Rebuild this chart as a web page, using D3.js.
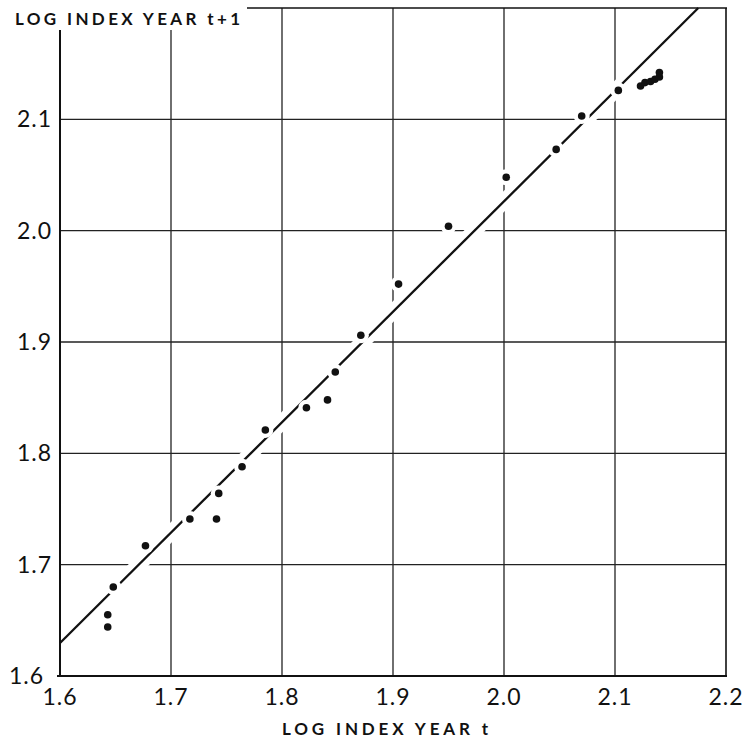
<!DOCTYPE html>
<html>
<head>
<meta charset="utf-8">
<script src="https://cdn.jsdelivr.net/npm/d3@7"></script>
<style>
  body { margin: 0; background: #fff; }
  svg { display: block; }
  text { fill: #111; }
</style>
</head>
<body>
<div id="chart"></div>
<script>
// values
const xVals = [1.643, 1.643, 1.648, 1.677, 1.717, 1.741, 1.743, 1.764, 1.785, 1.822,
  1.841, 1.848, 1.871, 1.905, 1.950, 2.002, 2.047, 2.070, 2.103,
  2.123, 2.127, 2.132, 2.136, 2.140, 2.140];
const yVals = [1.644, 1.655, 1.680, 1.717, 1.741, 1.741, 1.764, 1.788, 1.821, 1.841,
  1.848, 1.873, 1.906, 1.952, 2.004, 2.048, 2.073, 2.103, 2.126,
  2.130, 2.133, 2.134, 2.136, 2.138, 2.142];
const fitIntercept = 1.6296; // value of the line at x = 1.6
const fitSlope = 0.992;
const tickVals = [1.6, 1.7, 1.8, 1.9, 2.0, 2.1, 2.2];
const tickLabels = ["1.6", "1.7", "1.8", "1.9", "2.0", "2.1", "2.2"];
const xTitle = "LOG INDEX YEAR t";
const yTitle = "LOG INDEX YEAR t+1";

const width = 749, height = 738;
const plot = { left: 60, right: 726, top: 8, bottom: 676 };

const x = d3.scaleLinear().domain([1.6, 2.2]).range([plot.left, plot.right]);
const y = d3.scaleLinear().domain([1.6, 2.2]).range([plot.bottom, plot.top]);

const svg = d3.select("#chart").append("svg")
  .attr("width", width)
  .attr("height", height);

const inner = tickVals.slice(1, -1);

// grid
svg.append("g").selectAll("line.v")
  .data(inner).enter().append("line")
  .attr("x1", d => x(d)).attr("x2", d => x(d))
  .attr("y1", plot.top).attr("y2", plot.bottom)
  .style("stroke", "#222").style("stroke-width", 1.3);

svg.append("g").selectAll("line.h")
  .data(inner).enter().append("line")
  .attr("x1", plot.left).attr("x2", plot.right)
  .attr("y1", d => y(d)).attr("y2", d => y(d))
  .style("stroke", "#222").style("stroke-width", 1.3);

// fitted line end points
const xEnd = Math.min(2.2, 1.6 + (2.2 - fitIntercept) / fitSlope);
const fitLine = [
  { x: 1.6, y: fitIntercept },
  { x: xEnd, y: fitIntercept + fitSlope * (xEnd - 1.6) }
];
const lineGen = d3.line().x(d => x(d.x)).y(d => y(d.y));

const points = xVals.map((v, i) => ({ x: v, y: yVals[i] }));

// grid breaks where the fitted line crosses, like the drafted original
svg.append("path")
  .datum(fitLine)
  .attr("d", lineGen)
  .style("fill", "none")
  .style("stroke", "#fff")
  .style("stroke-width", 15);

// frame
const frame = svg.append("g").style("stroke", "#111").style("fill", "none");
frame.append("line")
  .attr("x1", plot.left).attr("x2", plot.left)
  .attr("y1", plot.top).attr("y2", plot.bottom + 1)
  .style("stroke-width", 2);
frame.append("line")
  .attr("x1", plot.left - 3).attr("x2", plot.right + 1)
  .attr("y1", plot.bottom).attr("y2", plot.bottom)
  .style("stroke-width", 2);
frame.append("line")
  .attr("x1", plot.right).attr("x2", plot.right)
  .attr("y1", plot.top).attr("y2", plot.bottom)
  .style("stroke-width", 1.6);
frame.append("line")
  .attr("x1", plot.left).attr("x2", plot.right + 1)
  .attr("y1", plot.top).attr("y2", plot.top)
  .style("stroke-width", 1.6);

// space for the vertical axis title
svg.append("rect")
  .attr("x", 0).attr("y", 0)
  .attr("width", 247).attr("height", 30)
  .style("fill", "#fff");

// fitted line
svg.append("path")
  .datum(fitLine)
  .attr("d", lineGen)
  .style("fill", "none")
  .style("stroke", "#111")
  .style("stroke-width", 2.3);

// line and grid break around each dot
svg.append("g").selectAll("circle")
  .data(points).enter().append("circle")
  .attr("cx", d => x(d.x)).attr("cy", d => y(d.y))
  .attr("r", 8)
  .style("fill", "#fff");

// dots
svg.append("g").selectAll("circle")
  .data(points).enter().append("circle")
  .attr("cx", d => x(d.x)).attr("cy", d => y(d.y))
  .attr("r", 3.8)
  .style("fill", "#111");

// tick labels
const labelFont = "Lato, 'Noto Sans', sans-serif";
svg.append("g").selectAll("text")
  .data(tickVals).enter().append("text")
  .attr("x", d => x(d))
  .attr("y", 697)
  .attr("dy", "0.35em")
  .attr("text-anchor", "middle")
  .style("font-family", labelFont)
  .style("font-size", "23px")
  .style("letter-spacing", "1px")
  .text((d, i) => tickLabels[i]);

svg.append("g").selectAll("text")
  .data(tickVals.slice(0, -1)).enter().append("text")
  .attr("x", (d, i) => i === 0 ? 44 : 52)
  .attr("y", d => y(d))
  .attr("dy", "0.35em")
  .attr("text-anchor", "end")
  .style("font-family", labelFont)
  .style("font-size", "23px")
  .style("letter-spacing", "1px")
  .text((d, i) => tickLabels[i]);

// axis titles
svg.append("text")
  .attr("x", 15).attr("y", 19)
  .attr("dy", "0.35em")
  .attr("textLength", 225)
  .attr("lengthAdjust", "spacing")
  .style("font-family", labelFont)
  .style("font-weight", "bold")
  .style("font-size", "17px")
  .text(yTitle);

svg.append("text")
  .attr("x", 282).attr("y", 729)
  .attr("dy", "0.35em")
  .attr("textLength", 206)
  .attr("lengthAdjust", "spacing")
  .style("font-family", labelFont)
  .style("font-weight", "bold")
  .style("font-size", "17px")
  .text(xTitle);
</script>
</body>
</html>
